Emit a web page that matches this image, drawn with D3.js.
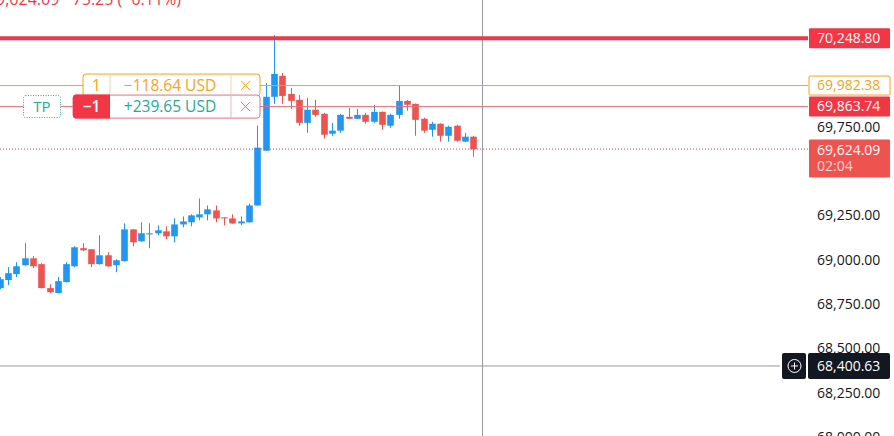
<!DOCTYPE html>
<html>
<head>
<meta charset="utf-8">
<script src="https://cdn.jsdelivr.net/npm/d3@7/dist/d3.min.js"></script>
<style>
  html, body { margin: 0; padding: 0; background: #ffffff; }
  svg { display: block; font-family: "Open Sans", "Noto Sans", sans-serif; }
</style>
</head>
<body>
<svg id="chart" width="894" height="436"></svg>
<script>
// ---- data ----
const barIndex = d3.range(58);
const opens  = [68840,68885,68919,68969,69008,68975,68840,68812,68874,68963,69065,69059,68975,69025,68969,68992,69171,69104,69143,69149,69160,69132,69199,69211,69239,69256,69278,69239,69233,69205,69211,69306,69615,69919,70037,69935,69902,69772,69846,69823,69711,69728,69806,69795,69817,69778,69834,69756,69817,69896,69879,69795,69733,69767,69699,69756,69666,69694];
const highs  = [68902,68958,68986,69093,69020,68980,68862,68902,68986,69076,69093,69061,69138,69042,69003,69205,69173,69211,69205,69194,69188,69233,69244,69256,69345,69306,69306,69240,69256,69244,69317,69756,69997,70267,70053,69969,69930,69913,69902,69829,69772,69823,69857,69851,69829,69874,69836,69823,69980,69902,69881,69801,69778,69769,69756,69761,69716,69699];
const lows   = [68834,68857,68902,68966,68952,68838,68812,68810,68872,68958,69048,68958,68973,68961,68930,68990,69076,69102,69065,69138,69115,69098,69183,69188,69222,69222,69211,69194,69203,69194,69209,69304,69613,69879,69879,69851,69756,69716,69806,69683,69699,69716,69793,69793,69767,69772,69733,69744,69795,69840,69699,69716,69694,69666,69666,69666,69664,69581];
const closes = [68890,68924,68963,69008,68963,68840,68817,68879,68975,69070,69053,68975,69025,68963,68997,69171,69098,69149,69149,69166,69132,69199,69216,69250,69256,69284,69233,69233,69205,69216,69306,69632,69919,70048,69924,69896,69772,69846,69817,69705,69728,69817,69795,69817,69778,69834,69761,69817,69896,69874,69789,69728,69767,69699,69750,69671,69694,69624.09];

// visible axis tick labels (the others are hidden behind price labels)
const axisTicks = [68000,68250,68500,68750,69000,69250,69750];
const stopPrice = 70248.80;        // thick red line
const orderPrice = 69982.38;       // orange position line
const posPrice = 69863.74;         // pink position line
const lastPrice = 69624.09;        // dotted last price
const crossPrice = 68400.63;       // crosshair price
const crossIndex = 58.1;           // crosshair bar position
const countdown = "02:04";
const headerText = "69,624.09  −75.25 (−0.11%)";
const orderQty = "1", orderPnl = "−118.64 USD";
const posQty = "−1", posPnl = "+239.65 USD";
const tpLabel = "TP";

// ---- styles ----
const UP = "#2196f3", DOWN = "#ef5350", RED = "#f23645", ORANGE = "#f7a21b",
      PINK = "#ea6f7d", TEAL = "#22ab94", GRAY = "#9598a1", DARK = "#131722";

const W = 894, H = 436;
const svg = d3.select("#chart");

const x = d3.scaleLinear().domain([0, 57]).range([-0.3, 473.4]);
const y = d3.scaleLinear().domain([68000, 70465]).range([437, 0]);
const fmt = d3.format(",.2f");

const AX = 808; // right axis start

// axis ticks
const axis = d3.axisRight(y).tickValues(axisTicks).tickSize(0).tickFormat(fmt);
const gAxis = svg.append("g").attr("transform", `translate(${AX + 9},0)`).call(axis);
gAxis.select(".domain").remove();
gAxis.selectAll("text").attr("x", 0).attr("font-size", 14).attr("fill", "#131722")
  .attr("font-family", "Open Sans, Noto Sans, sans-serif");

// crosshair
svg.append("line").attr("x1", x(crossIndex)).attr("x2", x(crossIndex)).attr("y1", 0).attr("y2", H)
  .attr("stroke", GRAY).attr("stroke-width", 1);
svg.append("line").attr("x1", 0).attr("x2", 780).attr("y1", y(crossPrice)).attr("y2", y(crossPrice))
  .attr("stroke", GRAY).attr("stroke-width", 1);

// candles
const data = barIndex.map(i => ({i, o: opens[i], h: highs[i], l: lows[i], c: closes[i]}));
const bw = 6.6;
const g = svg.append("g");
g.selectAll("line.wick").data(data).join("line")
  .attr("x1", d => Math.round(x(d.i)) + 0.5).attr("x2", d => Math.round(x(d.i)) + 0.5)
  .attr("y1", d => y(d.h)).attr("y2", d => y(d.l))
  .attr("stroke", d => d.c >= d.o ? UP : DOWN).attr("stroke-width", 1);
g.selectAll("rect.body").data(data).join("rect")
  .attr("x", d => Math.round(x(d.i)) + 0.5 - bw / 2).attr("width", bw)
  .attr("y", d => y(Math.max(d.o, d.c)))
  .attr("height", d => Math.max(1, Math.abs(y(d.o) - y(d.c))))
  .attr("fill", d => d.c >= d.o ? UP : DOWN);

// price lines
svg.append("line").attr("x1", 0).attr("x2", AX).attr("y1", y(stopPrice)).attr("y2", y(stopPrice))
  .attr("stroke", RED).attr("stroke-width", 4);
svg.append("line").attr("x1", 0).attr("x2", AX).attr("y1", y(orderPrice)).attr("y2", y(orderPrice))
  .attr("stroke", ORANGE).attr("stroke-width", 1);
svg.append("line").attr("x1", 0).attr("x2", AX).attr("y1", y(posPrice)).attr("y2", y(posPrice))
  .attr("stroke", PINK).attr("stroke-width", 1);
svg.append("line").attr("x1", 0).attr("x2", AX).attr("y1", y(lastPrice)).attr("y2", y(lastPrice))
  .attr("stroke", RED).attr("stroke-width", 1).attr("stroke-dasharray", "1,2");

// header text (cut at top)
svg.append("text").attr("x", 181).attr("y", 5).attr("text-anchor", "end")
  .attr("font-size", 16).attr("fill", RED).text(headerText);

// right axis labels
function priceLabel(price, fill, stroke, txtColor, h) {
  const cy = y(price);
  svg.append("rect").attr("x", AX + 1).attr("y", cy - h / 2).attr("width", 81).attr("height", h)
    .attr("fill", fill).attr("stroke", stroke || "none").attr("stroke-width", 1).attr("rx", 1);
  svg.append("text").attr("x", AX + 9).attr("y", cy).attr("dy", "0.35em")
    .attr("font-size", 14).attr("fill", txtColor).text(fmt(price));
}
priceLabel(stopPrice, RED, null, "#ffffff", 20);
priceLabel(orderPrice, "#ffffff", ORANGE, ORANGE, 19);
priceLabel(posPrice, RED, null, "#ffffff", 20);

// last price label with countdown
{
  const cy = y(lastPrice);
  svg.append("rect").attr("x", AX + 1).attr("y", cy - 9.5).attr("width", 81).attr("height", 38)
    .attr("fill", DOWN).attr("rx", 1);
  svg.append("text").attr("x", AX + 9).attr("y", cy + 1).attr("dy", "0.35em")
    .attr("font-size", 14).attr("fill", "#ffffff").text(fmt(lastPrice));
  svg.append("text").attr("x", AX + 9).attr("y", cy + 17).attr("dy", "0.35em")
    .attr("font-size", 14).attr("fill", "#ffffff").attr("fill-opacity", 0.78).text(countdown);
}

// crosshair label
{
  const cy = y(crossPrice);
  svg.append("rect").attr("x", 782).attr("y", cy - 13).attr("width", 24).attr("height", 26)
    .attr("fill", DARK).attr("rx", 2);
  svg.append("circle").attr("cx", 794.5).attr("cy", cy).attr("r", 6.5)
    .attr("fill", "none").attr("stroke", "#ffffff").attr("stroke-width", 1);
  svg.append("line").attr("x1", 791).attr("x2", 798).attr("y1", cy).attr("y2", cy).attr("stroke", "#fff");
  svg.append("line").attr("x1", 794.5).attr("x2", 794.5).attr("y1", cy - 3.5).attr("y2", cy + 3.5).attr("stroke", "#fff");
  svg.append("rect").attr("x", AX).attr("y", cy - 13).attr("width", 82).attr("height", 26)
    .attr("fill", DARK).attr("rx", 2);
  svg.append("text").attr("x", AX + 9).attr("y", cy).attr("dy", "0.35em")
    .attr("font-size", 14).attr("fill", "#ffffff").text(fmt(crossPrice));
}

// position widgets on the left
function cross(cx, cy, color) {
  const s = 4.5;
  svg.append("line").attr("x1", cx - s).attr("x2", cx + s).attr("y1", cy - s).attr("y2", cy + s).attr("stroke", color);
  svg.append("line").attr("x1", cx - s).attr("x2", cx + s).attr("y1", cy + s).attr("y2", cy - s).attr("stroke", color);
}
{
  // order (orange)
  const cy = y(orderPrice);
  svg.append("rect").attr("x", 83).attr("y", cy - 11.5).attr("width", 177).attr("height", 22)
    .attr("fill", "#ffffff").attr("stroke", ORANGE).attr("rx", 3);
  svg.append("line").attr("x1", 110).attr("x2", 110).attr("y1", cy - 11.5).attr("y2", cy + 10.5).attr("stroke", "#f9d49a");
  svg.append("line").attr("x1", 231).attr("x2", 231).attr("y1", cy - 11.5).attr("y2", cy + 10.5).attr("stroke", "#f9d49a");
  svg.append("text").attr("x", 96.5).attr("y", cy).attr("dy", "0.35em").attr("text-anchor", "middle")
    .attr("font-size", 15.5).attr("fill", ORANGE).text(orderQty);
  svg.append("text").attr("x", 170).attr("y", cy).attr("dy", "0.35em").attr("text-anchor", "middle")
    .attr("font-size", 15.5).attr("fill", ORANGE).text(orderPnl);
  cross(245.5, cy, ORANGE);
}
{
  // position (red)
  const cy = y(posPrice);
  // TP box
  svg.append("rect").attr("x", 23.5).attr("y", cy - 11).attr("width", 37).attr("height", 22)
    .attr("fill", "#ffffff").attr("stroke", TEAL).attr("stroke-dasharray", "1,1.5").attr("rx", 2);
  svg.append("text").attr("x", 42).attr("y", cy).attr("dy", "0.35em").attr("text-anchor", "middle")
    .attr("font-size", 15).attr("fill", TEAL).text(tpLabel);
  svg.append("rect").attr("x", 73).attr("y", cy - 11.5).attr("width", 187).attr("height", 23)
    .attr("fill", "#ffffff").attr("stroke", PINK).attr("rx", 3);
  svg.append("path")
    .attr("d", `M110,${cy - 12} H76 Q73,${cy - 12} 73,${cy - 9} V${cy + 9} Q73,${cy + 12} 76,${cy + 12} H110 Z`)
    .attr("fill", RED);
  svg.append("line").attr("x1", 231).attr("x2", 231).attr("y1", cy - 11.5).attr("y2", cy + 11.5).attr("stroke", "#f6b3b9");
  svg.append("text").attr("x", 91.5).attr("y", cy).attr("dy", "0.35em").attr("text-anchor", "middle")
    .attr("font-size", 15.5).attr("font-weight", 600).attr("fill", "#ffffff").text(posQty);
  svg.append("text").attr("x", 170).attr("y", cy).attr("dy", "0.35em").attr("text-anchor", "middle")
    .attr("font-size", 15.5).attr("fill", TEAL).text(posPnl);
  cross(245.5, cy, PINK);
}
</script>
</body>
</html>
